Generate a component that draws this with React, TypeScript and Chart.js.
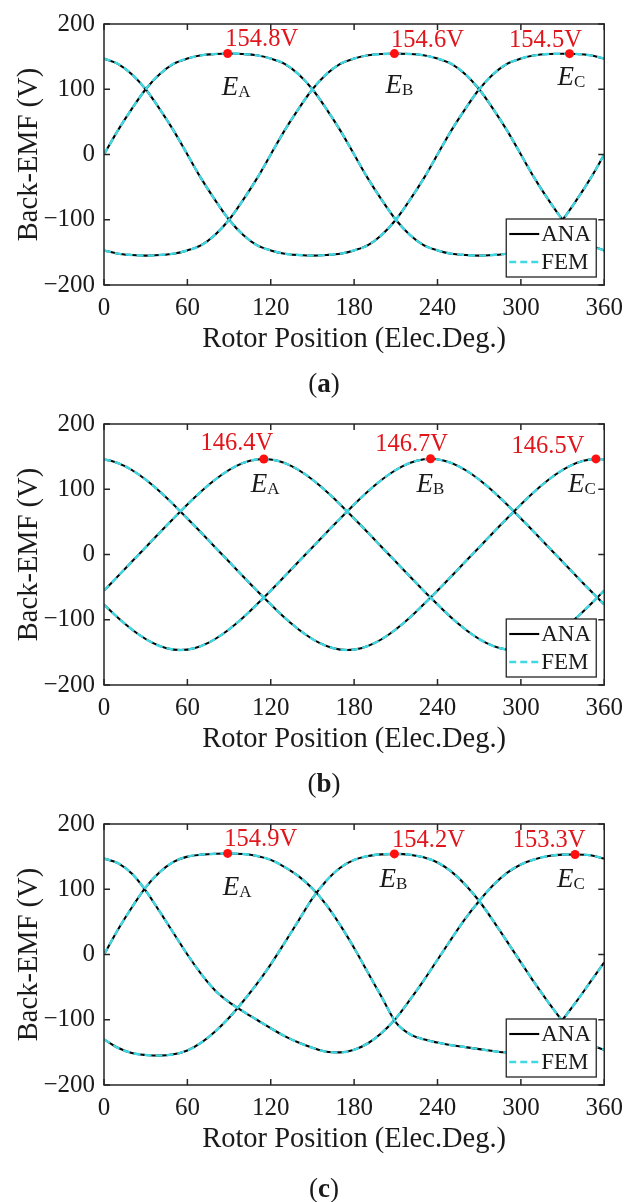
import React, { useEffect, useRef } from "react";
import { Chart, registerables } from "chart.js";

Chart.register(...registerables);

const SERIF = '"Liberation Serif", "Times New Roman", Times, serif';
const INK = "#1a1a1a";
const FRAME = "#262626";
const ANA_COLOR = "#000000";
const FEM_COLOR = "#3fd8e3";
const PEAK_COLOR = "#ff1010";
const PEAK_TEXT = "#e0161c";

// Rotor positions (electrical degrees)
const ANGLES_10 = [0, 10, 20, 30, 40, 50, 60, 70, 80, 90, 100, 110, 120, 130, 140, 150, 160, 170, 180, 190, 200, 210, 220, 230, 240, 250, 260, 270, 280, 290, 300, 310, 320, 330, 340, 350, 360];
const ANGLES_5 = [0, 5, 15, 25, 35, 45, 55, 65, 75, 85, 95, 105, 115, 125, 135, 145, 155, 165, 175, 185, 195, 205, 215, 225, 235, 245, 255, 265, 275, 285, 295, 305, 315, 325, 335, 345, 355, 360];

const X_TICKS = [0, 60, 120, 180, 240, 300, 360];
const Y_TICKS = [-200, -100, 0, 100, 200];
const PHASES = ["A", "B", "C"];

// ---- Case (a) ----
const caseA_EA = [0, 37, 70, 100, 123, 139, 147, 152, 154, 154.8, 154, 152, 147, 139, 123, 100, 70, 37, 0, -37, -70, -100, -123, -139, -147, -152, -154, -155, -154, -152, -147, -139, -123, -100, -70, -37, 0];
const caseA_EB = [-147, -152, -154, -155, -154, -152, -147, -139, -123, -100, -70, -37, 0, 37, 70, 100, 123, 139, 147, 152, 154, 154.6, 154, 152, 147, 139, 123, 100, 70, 37, 0, -37, -70, -100, -123, -139, -147];
const caseA_EC = [147, 139, 123, 100, 70, 37, 0, -37, -70, -100, -123, -139, -147, -152, -154, -155, -154, -152, -147, -139, -123, -100, -70, -37, 0, 37, 70, 100, 123, 139, 147, 152, 154, 154.5, 154, 152, 147];
const caseA_PEAK_POS = [89, 209, 335];
const caseA_PEAK_VAL = [154.8, 154.6, 154.5];

// ---- Case (b) ----
const caseB_EA = [-55.2, -44.3, -22.2, 0, 22.2, 44.3, 66, 86.9, 106.1, 122.6, 135.5, 143.6, 146.4, 143.6, 135.5, 122.6, 106.1, 86.9, 66, 44.3, 22.2, 0, -22.2, -44.3, -66, -86.9, -106.1, -122.6, -135.5, -143.6, -146.4, -143.6, -135.5, -122.6, -106.1, -86.9, -66, -55.2];
const caseB_EB = [-76.6, -86.9, -106.1, -122.6, -135.5, -143.6, -146.4, -143.6, -135.5, -122.6, -106.1, -86.9, -66, -44.3, -22.2, 0, 22.2, 44.3, 66, 86.9, 106.1, 122.6, 135.5, 143.6, 146.7, 143.6, 135.5, 122.6, 106.1, 86.9, 66, 44.3, 22.2, 0, -22.2, -44.3, -66, -76.6];
const caseB_EC = [145.7, 143.6, 135.5, 122.6, 106.1, 86.9, 66, 44.3, 22.2, 0, -22.2, -44.3, -66, -86.9, -106.1, -122.6, -135.5, -143.6, -146.4, -143.6, -135.5, -122.6, -106.1, -86.9, -66, -44.3, -22.2, 0, 22.2, 44.3, 66, 86.9, 106.1, 122.6, 135.5, 143.6, 146.5, 145.7];
const caseB_PEAK_POS = [115, 235, 354];
const caseB_PEAK_VAL = [146.4, 146.7, 146.5];

// ---- Case (c) ----
const caseC_EA = [0, 38, 72, 103, 126, 142, 150, 153, 154.5, 154.9, 154, 151, 145, 134, 120, 101, 76, 45, 10, -28, -66, -104, -122, -130, -135, -139, -142, -145, -148, -150, -150, -144, -126, -100, -72, -42, -12];
const caseC_EB = [-130, -143, -151, -154, -155, -153, -147, -135, -118, -97, -72, -45, -15, 18, 52, 86, 113, 133, 145, 151, 153.5, 154.2, 153, 149, 141, 127, 107, 82, 52, 20, -12, -44, -74, -102, -124, -138, -146];
const caseC_EC = [147, 140, 124, 98, 66, 33, 0, -30, -55, -73, -87, -100, -113, -125, -135, -143, -149, -150, -146, -136, -120, -98, -70, -40, -8, 24, 55, 82, 106, 125, 138, 146, 151, 153, 153.3, 152, 147];
const caseC_PEAK_POS = [89, 209, 339];
const caseC_PEAK_VAL = [154.9, 154.2, 153.3];

type PanelSpec = {
  top: number;
  height: number;
  caption: string;
  captionY: number;
  angles: number[];
  ana: number[][];
  fem: number[][];
  peakPos: number[];
  peakVal: number[];
  valueOffsets: number[][];
  nameOffsets: number[][];
};

// The FEM waveforms coincide with the analytical ones to within the line width.
const PANELS: PanelSpec[] = [
  {
    top: 0, height: 400, caption: "a", captionY: 383,
    angles: ANGLES_10,
    ana: [caseA_EA, caseA_EB, caseA_EC],
    fem: [caseA_EA, caseA_EB, caseA_EC],
    peakPos: caseA_PEAK_POS, peakVal: caseA_PEAK_VAL,
    valueOffsets: [[34, -7], [33, -7], [-24, -7]],
    nameOffsets: [[-6, 42], [-9, 39], [-12, 31]],
  },
  {
    top: 400, height: 400, caption: "b", captionY: 383,
    angles: ANGLES_5,
    ana: [caseB_EA, caseB_EB, caseB_EC],
    fem: [caseB_EA, caseB_EB, caseB_EC],
    peakPos: caseB_PEAK_POS, peakVal: caseB_PEAK_VAL,
    valueOffsets: [[-27, -9], [-19, -8], [-48, -6]],
    nameOffsets: [[-13, 33], [-14, 33], [-28, 33]],
  },
  {
    top: 800, height: 402, caption: "c", captionY: 388,
    angles: ANGLES_10,
    ana: [caseC_EA, caseC_EB, caseC_EC],
    fem: [caseC_EA, caseC_EB, caseC_EC],
    peakPos: caseC_PEAK_POS, peakVal: caseC_PEAK_VAL,
    valueOffsets: [[33, -7], [34, -7], [-26, -7]],
    nameOffsets: [[-5, 42], [-15, 33], [-18, 33]],
  },
];

const fmtTick = (v: number) => (v < 0 ? "\u2212" + Math.abs(v) : String(v));

function BackEmfPanel({ spec }: { spec: PanelSpec }) {
  const ref = useRef<HTMLCanvasElement>(null);

  useEffect(() => {
    const canvas = ref.current;
    if (!canvas) return;
    const pts = (ys: number[]) => spec.angles.map((x, i) => ({ x, y: ys[i] }));

    const datasets: any[] = [
      {
        label: "peaks",
        data: spec.peakPos.map((x, i) => ({ x, y: spec.peakVal[i] })),
        showLine: false,
        pointRadius: 4.5,
        pointHoverRadius: 4.5,
        pointBackgroundColor: PEAK_COLOR,
        pointBorderWidth: 0,
        order: 0,
        clip: false,
      },
    ];
    spec.fem.forEach((ys) =>
      datasets.push({
        label: "FEM",
        data: pts(ys),
        borderColor: FEM_COLOR,
        borderWidth: 2.4,
        borderDash: [7, 4],
        pointRadius: 0,
        cubicInterpolationMode: "monotone",
        order: 1,
      })
    );
    spec.ana.forEach((ys) =>
      datasets.push({
        label: "ANA",
        data: pts(ys),
        borderColor: ANA_COLOR,
        borderWidth: 2.1,
        pointRadius: 0,
        cubicInterpolationMode: "monotone",
        order: 2,
      })
    );

    const overlay = {
      id: "overlay",
      afterDatasetsDraw(chart: any) {
        const { ctx, chartArea: ca, scales } = chart;
        const xs = scales.x;
        const ys = scales.y;
        ctx.save();

        // peak values and phase names
        spec.peakPos.forEach((p, i) => {
          const px = xs.getPixelForValue(p);
          const py = ys.getPixelForValue(spec.peakVal[i]);
          const [vdx, vdy] = spec.valueOffsets[i];
          ctx.fillStyle = PEAK_TEXT;
          ctx.font = `24.5px ${SERIF}`;
          ctx.textAlign = "center";
          ctx.textBaseline = "alphabetic";
          ctx.fillText(`${spec.peakVal[i].toFixed(1)}V`, px + vdx, py + vdy);

          const [ndx, ndy] = spec.nameOffsets[i];
          ctx.fillStyle = INK;
          ctx.textAlign = "left";
          ctx.font = `italic 27px ${SERIF}`;
          ctx.fillText("E", px + ndx, py + ndy);
          const w = ctx.measureText("E").width;
          ctx.font = `17px ${SERIF}`;
          ctx.fillText(PHASES[i], px + ndx + w, py + ndy + 2);
        });

        // axes box with inward ticks on all sides
        ctx.strokeStyle = FRAME;
        ctx.lineWidth = 1.5;
        ctx.setLineDash([]);
        ctx.strokeRect(ca.left, ca.top, ca.right - ca.left, ca.bottom - ca.top);
        const tl = 6;
        ctx.beginPath();
        X_TICKS.forEach((t) => {
          const px = xs.getPixelForValue(t);
          ctx.moveTo(px, ca.bottom);
          ctx.lineTo(px, ca.bottom - tl);
          ctx.moveTo(px, ca.top);
          ctx.lineTo(px, ca.top + tl);
        });
        Y_TICKS.forEach((t) => {
          const py = ys.getPixelForValue(t);
          ctx.moveTo(ca.left, py);
          ctx.lineTo(ca.left + tl, py);
          ctx.moveTo(ca.right, py);
          ctx.lineTo(ca.right - tl, py);
        });
        ctx.stroke();

        // legend
        const lw = 90;
        const lh = 58;
        const lx = ca.right - 8 - lw;
        const ly = ca.bottom - 8 - lh;
        ctx.fillStyle = "#ffffff";
        ctx.fillRect(lx, ly, lw, lh);
        ctx.strokeStyle = FRAME;
        ctx.lineWidth = 1.3;
        ctx.strokeRect(lx, ly, lw, lh);
        const rows = [ly + 15, ly + 43];
        const entries = [
          { text: "ANA", color: ANA_COLOR, width: 2.1, dash: [] as number[] },
          { text: "FEM", color: FEM_COLOR, width: 2.4, dash: [7, 4] },
        ];
        entries.forEach((e, k) => {
          ctx.beginPath();
          ctx.setLineDash(e.dash);
          ctx.strokeStyle = e.color;
          ctx.lineWidth = e.width;
          ctx.moveTo(lx + 3, rows[k]);
          ctx.lineTo(lx + 33, rows[k]);
          ctx.stroke();
          ctx.setLineDash([]);
          ctx.fillStyle = INK;
          ctx.font = `23px ${SERIF}`;
          ctx.textAlign = "left";
          ctx.textBaseline = "middle";
          ctx.fillText(e.text, lx + 35, rows[k] + 1);
        });
        ctx.restore();
      },
    };

    const chart = new Chart(canvas, {
      type: "line",
      data: { datasets },
      options: {
        animation: false,
        responsive: false,
        events: [],
        layout: { padding: { top: 19, right: 20, left: 0, bottom: 0 } },
        plugins: { legend: { display: false }, tooltip: { enabled: false } },
        scales: {
          x: {
            type: "linear",
            min: 0,
            max: 360,
            afterBuildTicks: (s: any) => {
              s.ticks = X_TICKS.map((value) => ({ value }));
            },
            afterFit: (s: any) => {
              s.height = spec.height - 285;
            },
            grid: { display: false, drawTicks: false },
            border: { display: false },
            ticks: {
              padding: 8,
              color: INK,
              autoSkip: false,
              maxRotation: 0,
              font: { family: SERIF, size: 25 },
              callback: (v: any) => fmtTick(Number(v)),
            },
            title: {
              display: true,
              text: "Rotor Position (Elec.Deg.)",
              color: INK,
              font: { family: SERIF, size: 28.5 },
              padding: { top: 0, bottom: 43 + (spec.height - 400) },
            },
          },
          y: {
            type: "linear",
            min: -200,
            max: 200,
            afterBuildTicks: (s: any) => {
              s.ticks = Y_TICKS.map((value) => ({ value }));
            },
            afterFit: (s: any) => {
              s.width = 104;
            },
            grid: { display: false, drawTicks: false },
            border: { display: false },
            ticks: {
              padding: 9,
              color: INK,
              autoSkip: false,
              font: { family: SERIF, size: 25 },
              callback: (v: any) => fmtTick(Number(v)),
            },
            title: {
              display: true,
              text: "Back-EMF (V)",
              color: INK,
              font: { family: SERIF, size: 28.5 },
              padding: { top: 12, bottom: 0 },
            },
          },
        },
      },
      plugins: [overlay],
    });

    return () => chart.destroy();
  }, [spec]);

  return (
    <>
      <canvas
        ref={ref}
        width={631}
        height={spec.height}
        style={{ position: "absolute", left: 0, top: spec.top, width: 631, height: spec.height }}
      />
      <div
        style={{
          position: "absolute",
          left: 324,
          top: spec.top + spec.captionY - 16,
          transform: "translateX(-50%)",
          fontFamily: SERIF,
          fontSize: 27,
          lineHeight: "32px",
          color: INK,
          whiteSpace: "nowrap",
        }}
      >
        (<b>{spec.caption}</b>)
      </div>
    </>
  );
}

export default function App() {
  return (
    <div style={{ position: "absolute", left: 0, top: 0, width: 631, height: 1202, background: "#ffffff" }}>
      {PANELS.map((p) => (
        <BackEmfPanel key={p.caption} spec={p} />
      ))}
    </div>
  );
}
